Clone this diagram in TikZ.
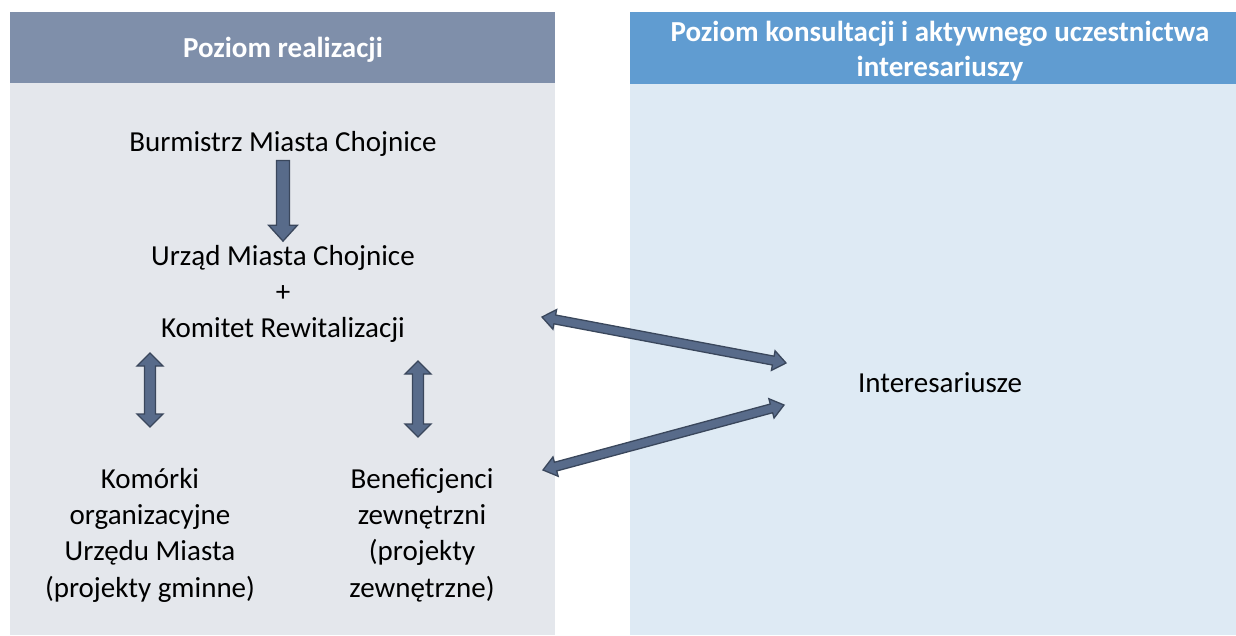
\documentclass[tikz,border=0pt]{standalone}
\usepackage{fontspec}
\setmainfont{Carlito}
\usepackage{tikz}
\usetikzlibrary{calc,positioning}
\usepackage{xcolor}
\definecolor{headgray}{HTML}{7F8FAA}
\definecolor{bodygray}{HTML}{E4E7EC}
\definecolor{headblue}{HTML}{609CD1}
\definecolor{bodyblue}{HTML}{DEEAF4}
\definecolor{arrfill}{HTML}{586B8A}
\definecolor{arredge}{HTML}{3A475C}

\begin{document}
\begin{tikzpicture}[
    x=1pt,y=-1pt,
    txt/.style={align=center,font=\fontsize{29}{36.3}\selectfont,inner sep=0pt,outer sep=4pt},
    head/.style={align=center,font=\fontsize{29}{35.5}\selectfont\bfseries,text=white,inner sep=0pt},
    fat/.style={draw=arredge,fill=arrfill,line width=1.3pt,line join=miter},
    onehead/.style n args={3}{to path={
        -- ($(\tikztostart)!#3!90:(\tikztotarget)$)
        -- ($(\tikztotarget)!#1!(\tikztostart)!#3!-90:(\tikztostart)$)
        -- ($(\tikztotarget)!#1!(\tikztostart)!#2!-90:(\tikztostart)$)
        -- (\tikztotarget)
        -- ($(\tikztotarget)!#1!(\tikztostart)!#2!90:(\tikztostart)$)
        -- ($(\tikztotarget)!#1!(\tikztostart)!#3!90:(\tikztostart)$)
        -- ($(\tikztostart)!#3!-90:(\tikztotarget)$)
        -- cycle}},
    twohead/.style n args={3}{to path={
        -- ($(\tikztostart)!#1!(\tikztotarget)!#2!90:(\tikztotarget)$)
        -- ($(\tikztostart)!#1!(\tikztotarget)!#3!90:(\tikztotarget)$)
        -- ($(\tikztotarget)!#1!(\tikztostart)!#3!-90:(\tikztostart)$)
        -- ($(\tikztotarget)!#1!(\tikztostart)!#2!-90:(\tikztostart)$)
        -- (\tikztotarget)
        -- ($(\tikztotarget)!#1!(\tikztostart)!#2!90:(\tikztostart)$)
        -- ($(\tikztotarget)!#1!(\tikztostart)!#3!90:(\tikztostart)$)
        -- ($(\tikztostart)!#1!(\tikztotarget)!#3!-90:(\tikztotarget)$)
        -- ($(\tikztostart)!#1!(\tikztotarget)!#2!-90:(\tikztotarget)$)
        -- cycle}}
]
\useasboundingbox (0,0) rectangle (1236,635);

% two columns
\fill[headgray] (10,12) rectangle (555,83);
\fill[bodygray] (10,83) rectangle (555,635);
\fill[headblue] (630,12) rectangle (1236,84);
\fill[bodyblue] (630,84) rectangle (1236,635);

\node[head] (hreal) at (283,50) {Poziom realizacji};
\node[head] (hkons) at (940,51) {Poziom konsultacji i aktywnego uczestnictwa\\interesariuszy};

\node[txt] (burm) at (283,144) {Burmistrz Miasta Chojnice};
\node[txt] (urzad) at (283,294) {Urząd Miasta Chojnice\\+\\Komitet Rewitalizacji};
\node[txt] (kom) at (150,535) {Komórki\\organizacyjne\\Urzędu Miasta\\(projekty gminne)};
\node[txt] (bene) at (422,535) {Beneficjenci\\zewnętrzni\\(projekty\\zewnętrzne)};
\node[txt] (inter) at (940,383) {Interesariusze};

\coordinate (ka) at (150,353);
\coordinate (kb) at (150,427);
\coordinate (ba) at (418,361);
\coordinate (bb) at (418,437);
\coordinate (ua) at (542,317);
\coordinate (ub) at (786,363);
\coordinate (la) at (543,470);
\coordinate (lb) at (784,405);

\draw[fat] (burm.south) to[onehead={16pt}{14.5pt}{6.5pt}] (urzad.north);
\draw[fat] (ka) to[twohead={13pt}{13pt}{5.5pt}] (kb);
\draw[fat] (ba) to[twohead={13pt}{13pt}{5.5pt}] (bb);
\draw[fat] (ua) to[twohead={13pt}{10pt}{4.5pt}] (ub);
\draw[fat] (la) to[twohead={13pt}{10pt}{4.5pt}] (lb);
\end{tikzpicture}
\end{document}
